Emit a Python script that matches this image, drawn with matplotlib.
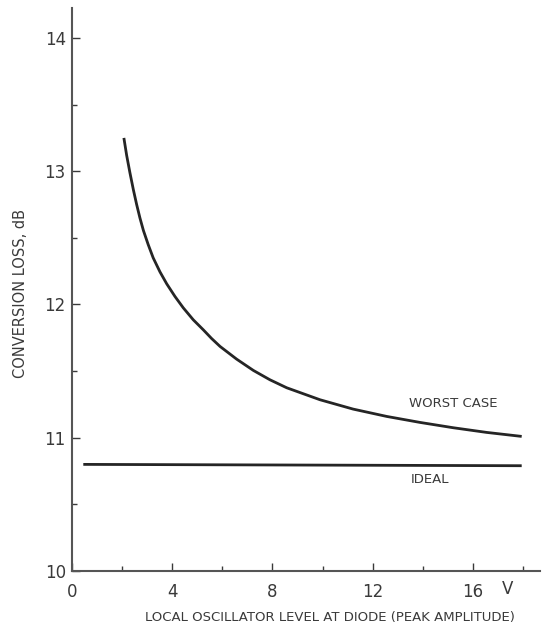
import numpy as np
import matplotlib.pyplot as plt
from matplotlib.ticker import MultipleLocator

# LO level at diode (V peak) vs conversion loss (dB)
worst_v = [2.07, 2.18, 2.31, 2.45, 2.58, 2.71, 2.85, 3.04, 3.24, 3.51, 3.78,
           4.11, 4.44, 4.84, 5.24, 5.57, 5.91, 6.57, 7.24, 7.90, 8.57, 9.90,
           11.22, 12.56, 13.89, 15.22, 16.55, 17.95]
worst_db = [13.25, 13.12, 12.99, 12.86, 12.75, 12.65, 12.555, 12.45, 12.35,
            12.245, 12.155, 12.06, 11.975, 11.885, 11.81, 11.745, 11.685,
            11.59, 11.505, 11.435, 11.375, 11.285, 11.215, 11.16, 11.115,
            11.075, 11.04, 11.01]
ideal_v = [0.45, 17.95]
ideal_db = [10.80, 10.79]

x_ticks = [0, 4, 8, 12, 16]
y_ticks = [10, 11, 12, 13, 14]

INK = "#3a3a3a"
plt.rcParams['font.family'] = ['DejaVu Sans']

fig = plt.figure(figsize=(5.44, 6.35), dpi=100)
ax = fig.add_axes([0.1324, 0.1008, 0.8602, 0.8866])

ax.plot(worst_v, worst_db, color="#252525", lw=2.0, solid_capstyle='butt',
        solid_joinstyle='round')
ax.plot(ideal_v, ideal_db, color="#252525", lw=2.0, solid_capstyle='butt')

ax.set_xlim(0, 18.68)
ax.set_ylim(10, 14.225)
ax.set_xticks(x_ticks)
ax.set_yticks(y_ticks)
ax.xaxis.set_minor_locator(MultipleLocator(2))
ax.yaxis.set_minor_locator(MultipleLocator(0.5))
ax.tick_params(which='major', direction='in', length=6, width=1.0,
               colors=INK, labelsize=12)
ax.tick_params(which='minor', direction='in', length=3.5, width=1.0, colors=INK)
ax.tick_params(axis='x', which='major', pad=9)
ax.tick_params(axis='y', which='major', pad=4.5)

for side in ['top', 'right']:
    ax.spines[side].set_visible(False)
for side in ['left', 'bottom']:
    ax.spines[side].set_color("#555555")
    ax.spines[side].set_linewidth(1.5)

ax.text(17.4, 9.93, "V", ha='center', va='top', fontsize=12, color=INK)
ax.text(15.2, 11.26, "WORST CASE", ha='center', va='center', fontsize=9.5, color=INK)
ax.text(14.3, 10.69, "IDEAL", ha='center', va='center', fontsize=9.5, color=INK)

fig.text(0.607, 0.027, "LOCAL OSCILLATOR LEVEL AT DIODE (PEAK AMPLITUDE)",
         ha='center', va='center', fontsize=9.5, color=INK)
fig.text(0.037, 0.538, "CONVERSION LOSS, dB", rotation=90,
         ha='center', va='center', fontsize=10.5, color=INK)

fig.savefig("out.png", dpi=100)
